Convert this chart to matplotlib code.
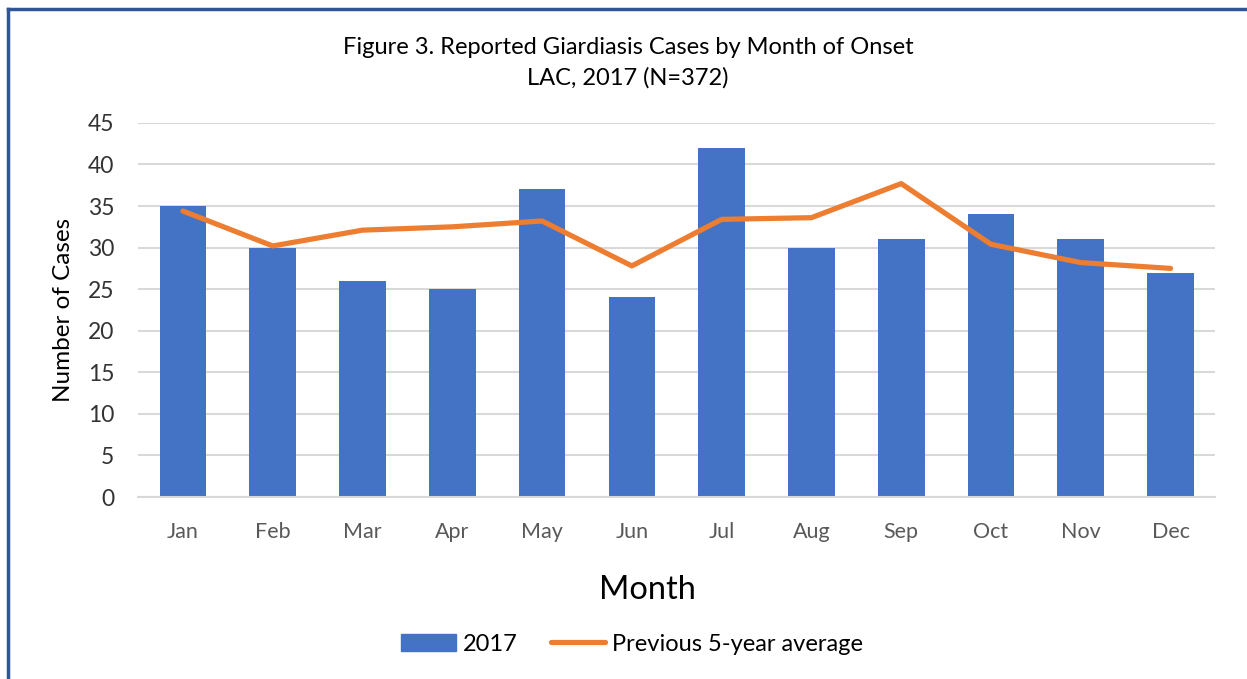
import matplotlib
matplotlib.use("Agg")
import matplotlib.pyplot as plt
from matplotlib.lines import Line2D

plt.rcParams['font.family'] = ['Lato', 'DejaVu Sans']

months = ["Jan", "Feb", "Mar", "Apr", "May", "Jun", "Jul", "Aug", "Sep", "Oct", "Nov", "Dec"]
cases_2017 = [35, 30, 26, 25, 37, 24, 42, 30, 31, 34, 31, 27]
prev_5yr_avg = [34.4, 30.2, 32.1, 32.5, 33.2, 27.8, 33.4, 33.6, 37.7, 30.4, 28.2, 27.5]

blue = "#4472C4"
orange = "#ED7D31"
gray = "#595959"

fig = plt.figure(figsize=(12.47, 6.79), dpi=100)
ax = fig.add_axes([0.1107, 0.268, 0.864, 0.551])

x = list(range(len(months)))
ax.bar(x, cases_2017, width=0.52, color=blue, zorder=2, label="2017")
ax.plot(x, prev_5yr_avg, color=orange, linewidth=3.75, solid_capstyle="round",
        solid_joinstyle="round", zorder=3, label="Previous 5-year average")

ax.set_xlim(-0.5, 11.5)
ax.set_ylim(0, 45)
ax.set_yticks(range(0, 46, 5))
ax.set_xticks(x)
ax.set_xticklabels(months)
ax.grid(axis="y", color="#D9D9D9", linewidth=1.5, zorder=0)
for s in ["top", "right", "left"]:
    ax.spines[s].set_visible(False)
ax.spines["bottom"].set_color("#D9D9D9")
ax.spines["bottom"].set_linewidth(1.5)
ax.tick_params(axis="both", length=0)
ax.tick_params(axis="y", labelsize=16.5, labelcolor="#333333", pad=17)
ax.tick_params(axis="x", labelsize=15.5, labelcolor=gray, pad=18)

ax.set_ylabel("Number of Cases", fontsize=17.5, color="black", labelpad=10)

fig.text(0.519, 0.131, "Month", ha="center", va="center", fontsize=23.5)
fig.text(0.5036, 0.930, "Figure 3. Reported Giardiasis Cases by Month of Onset",
         ha="center", va="center", fontsize=17)
fig.text(0.5036, 0.886, "LAC, 2017 (N=372)", ha="center", va="center", fontsize=17)

handles = [plt.Rectangle((0, 0), 1, 1, color=blue),
           Line2D([0], [0], color=orange, linewidth=3.75, solid_capstyle="round")]
fig.legend(handles, ["2017", "Previous 5-year average"], loc="center",
           bbox_to_anchor=(0.507, 0.0515), ncol=2, frameon=False, fontsize=17,
           handlelength=2.3, columnspacing=1.4, handletextpad=0.3)

# border around the chart area
border = "#2F5597"
fig.add_artist(Line2D([0.0064, 0.0064], [0, 0.987], color=border, linewidth=2.5, transform=fig.transFigure))
fig.add_artist(Line2D([0.0064, 1.0], [0.987, 0.987], color=border, linewidth=2.5, transform=fig.transFigure))

fig.savefig("out.png", dpi=100)
